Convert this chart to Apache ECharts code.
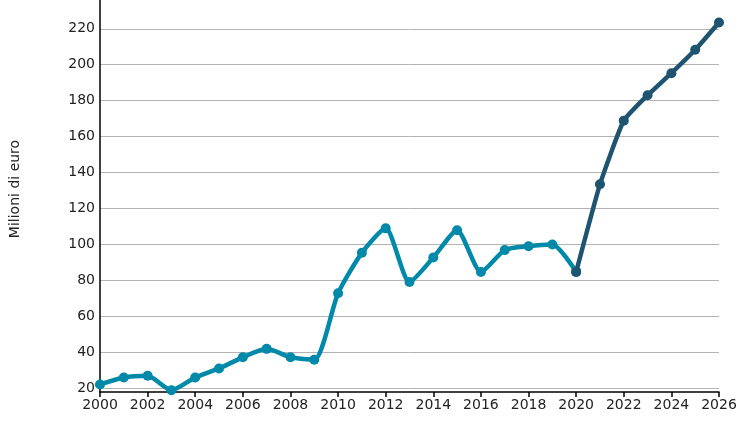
<!DOCTYPE html>
<html><head><meta charset="utf-8">
<script src="https://cdn.jsdelivr.net/npm/echarts@6/dist/echarts.min.js"></script>
<style>html,body{margin:0;padding:0;background:#fff}#c{width:748px;height:422px}</style>
</head><body><div id="c"></div>
<script>
const years = ['2000','2001','2002','2003','2004','2005','2006','2007','2008','2009','2010','2011','2012','2013','2014','2015','2016','2017','2018','2019','2020','2021','2022','2023','2024','2025','2026'];
const historical = [22.2,26.1,27,19,26.1,31.1,37.3,42,37.3,35.9,72.9,95.4,109,79.2,92.8,108,84.8,96.9,99.1,100,84.8,null,null,null,null,null,null];
const forecast = [null,null,null,null,null,null,null,null,null,null,null,null,null,null,null,null,null,null,null,null,84.8,133.5,168.9,183,195.3,208.3,223.5];
const yTicks = [20,40,60,80,100,120,140,160,180,200,220];
const yTitle = 'Milioni di euro';

const chart = echarts.init(document.getElementById('c'), null, {renderer:'canvas'});
const font = 'DejaVu Sans';
chart.setOption({
  animation:false,
  grid:{left:99,right:29,top:0,bottom:30,containLabel:false},
  xAxis:{type:'value',min:2000,max:2026,interval:2,
    axisLine:{lineStyle:{color:'#000',width:1.5}},
    axisTick:{show:true,length:5,lineStyle:{color:'#000',width:1.5}},
    axisLabel:{color:'#222',fontFamily:font,fontSize:14,margin:6,formatter:v=>String(v)},
    splitLine:{show:false}},
  yAxis:{type:'value',min:18,max:236,
    name:yTitle,nameLocation:'middle',nameGap:78,nameRotate:90,
    nameTextStyle:{color:'#222',fontFamily:font,fontSize:14,padding:[0,0,0,14]},
    axisLine:{show:true,lineStyle:{color:'#000',width:1.5}},
    axisTick:{show:false,customValues:yTicks},
    axisLabel:{color:'#222',fontFamily:font,fontSize:14,margin:5,customValues:yTicks},
    splitLine:{show:true,lineStyle:{color:'#b3b3b3',width:1}}},
  series:[
    {type:'line',data:years.map((y,i)=>[+y,historical[i]]).filter(d=>d[1]!==null),smooth:0.22,
     symbol:'circle',symbolSize:10,lineStyle:{color:'#0089a8',width:4.5},itemStyle:{color:'#0089a8'},z:2},
    {type:'line',data:years.map((y,i)=>[+y,forecast[i]]).filter(d=>d[1]!==null),smooth:0.15,
     symbol:'circle',symbolSize:10,lineStyle:{color:'#1e5470',width:4.5},itemStyle:{color:'#1e5470'},z:3}
  ]
});
</script></body></html>
